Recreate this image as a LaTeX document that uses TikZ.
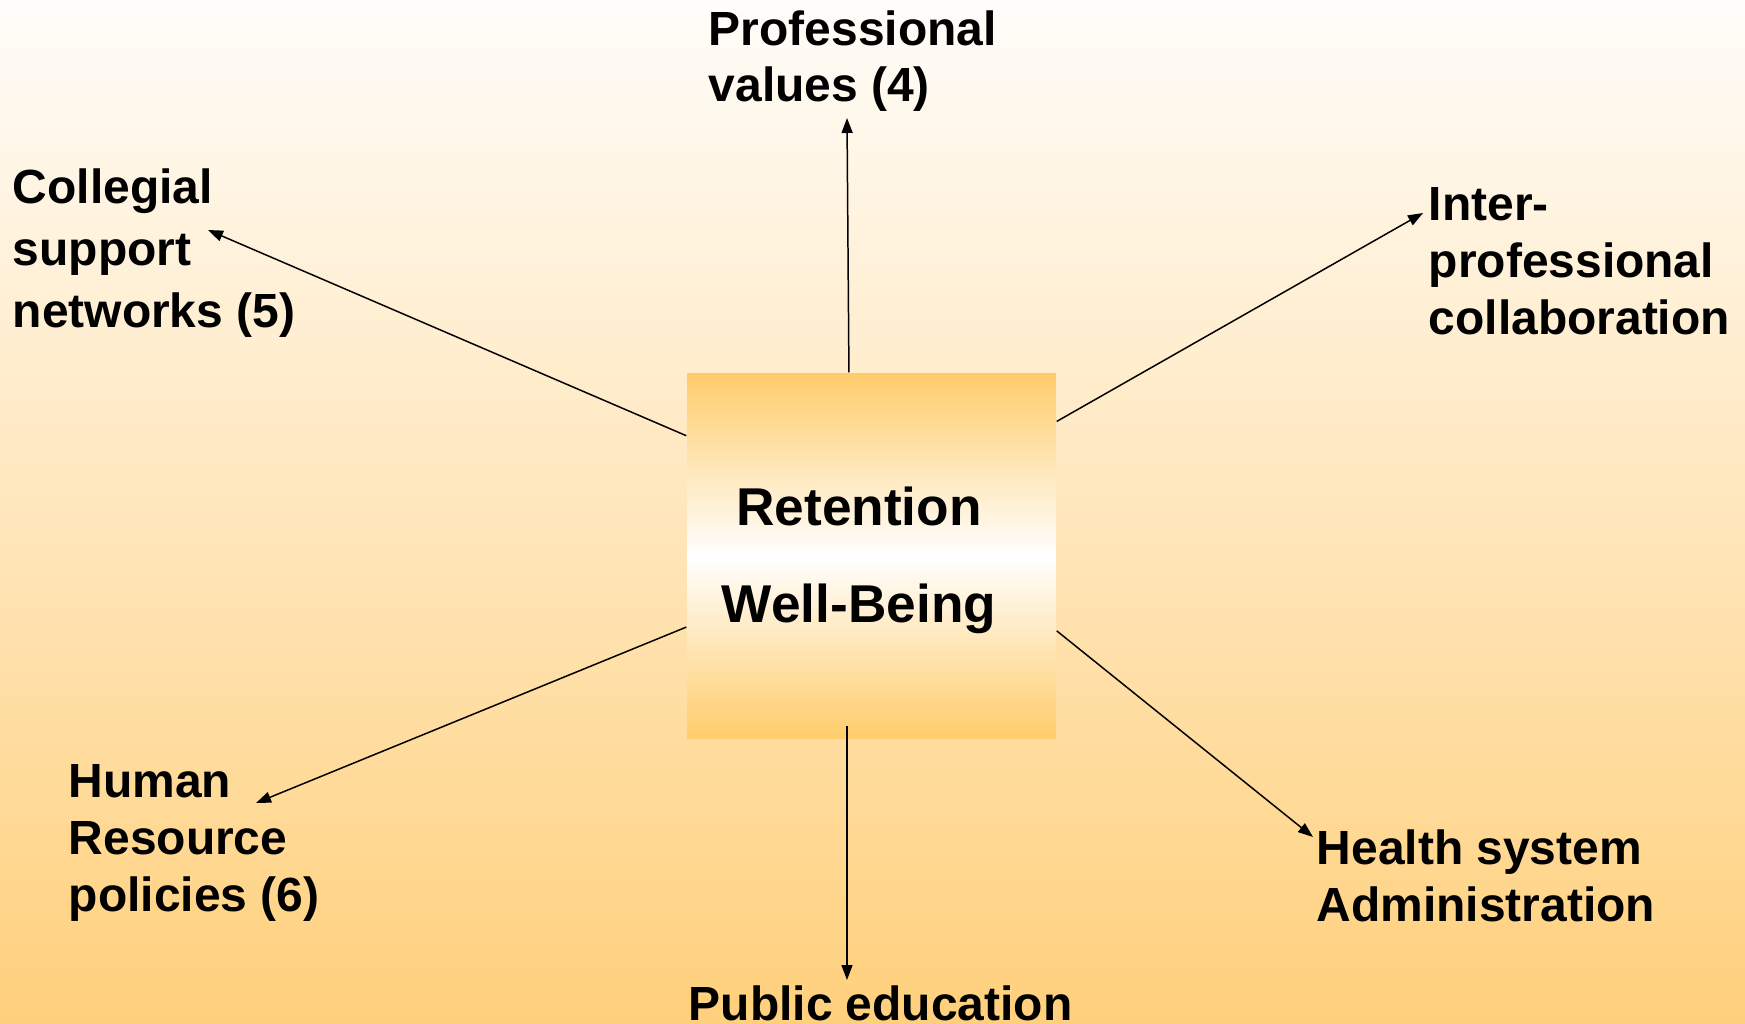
\documentclass[tikz,border=0pt]{standalone}
\usepackage{fontspec}
\setmainfont{Liberation Sans}
\usepackage{xcolor}
\usetikzlibrary{arrows.meta,positioning}
\definecolor{bgtop}{RGB}{255,253,250}
\definecolor{bgbottom}{RGB}{255,208,124}
\definecolor{boxorange}{RGB}{255,204,107}

\begin{document}
\begin{tikzpicture}[x=0.02cm,y=-0.02cm,>={Triangle[length=0.3cm,width=0.22cm]},line width=0.85pt,
	link/.style={->},
	factor/.style={anchor=base west,align=left,inner sep=0pt,font=\bfseries\fontsize{27.3pt}{32.3pt}\selectfont},
	core/.style={minimum width=7.38cm,minimum height=7.32cm,inner sep=0pt,top color=boxorange,bottom color=boxorange,middle color=white},
	coretext/.style={anchor=base,align=center,inner sep=0pt,font=\bfseries\fontsize{30.3pt}{55pt}\selectfont}]
		\useasboundingbox (0,0) rectangle (1745,1024);
		\fill[top color=bgtop,bottom color=bgbottom] (0,0) rectangle (1745,1024);
	
		\node[core] (core) at (871.5,556) {};
		% base anchor sits on the last line
		\node[coretext] (coretxt) at (859,622) {Retention\\Well-Being};
	
		\node[factor] (values) at (708,102) {Professional\\values (4)};
		\node[factor,font=\bfseries\fontsize{27.3pt}{35.1pt}\selectfont] (collegial) at (12,327) {Collegial\\support\\networks (5)};
		\node[factor] (interprof) at (1428,334) {Inter-\\professional\\collaboration};
		\node[factor] (hr) at (68,911) {Human\\Resource\\policies (6)};
		\node[factor] (admin) at (1316,921) {Health system\\Administration};
		\node[factor] (public) at (688,1020) {Public education};
	
		\coordinate (tipV) at (847,118);
		\coordinate (tipC) at (208,230);
		\coordinate (tipI) at (1423,213);
		\coordinate (tipH) at (256,803);
		\coordinate (tipA) at (1313,837);
		\coordinate (tipP) at (847,980);
	
		\draw[link] (core.97.6) -- (tipV);
		\draw[link] (core.147.2) -- (tipC);
		\draw[link] (core.36.4) -- (tipI);
		\draw[link] (core.201.6) -- (tipH);
		\draw[link] (core.338.4) -- (tipA);
		\draw[link] (core.south) ++(-24.5,-14) -- (tipP);
	\end{tikzpicture}
\end{document}
